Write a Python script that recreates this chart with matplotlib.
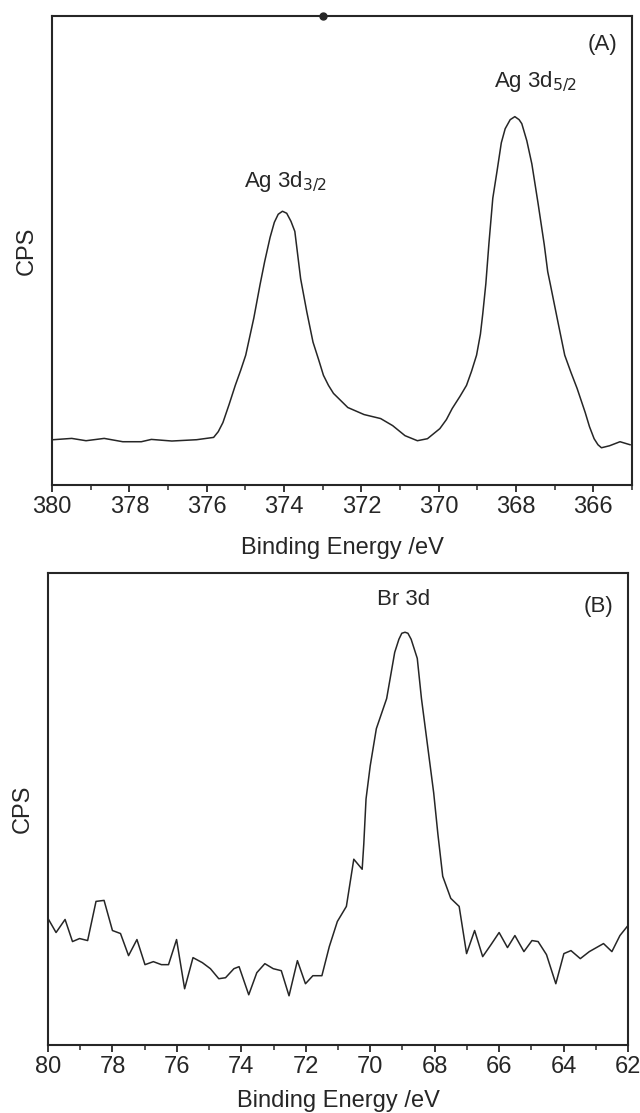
import matplotlib
matplotlib.use("Agg")
import matplotlib.pyplot as plt
from matplotlib.ticker import MultipleLocator

plt.rcParams['font.family'] = ['Liberation Sans', 'DejaVu Sans']

# Ag 3d region: binding energy (eV) and counts (arbitrary units)
ag_energy = [379.97, 379.49, 379.12, 378.65, 378.17, 377.69, 377.43, 376.90,
             376.26, 375.82, 375.70, 375.58, 375.42, 375.26, 375.12, 374.99,
             374.78, 374.62, 374.50, 374.36, 374.25, 374.15, 374.04, 373.93,
             373.82, 373.72, 373.57, 373.41, 373.25, 373.10, 372.98, 372.85,
             372.72, 372.35, 371.93, 371.50, 371.19, 370.87, 370.55, 370.29,
             369.97, 369.80, 369.65, 369.45, 369.28, 369.15, 369.02, 368.92,
             368.86, 368.78, 368.70, 368.60, 368.49, 368.38, 368.28, 368.15,
             368.03, 367.92, 367.85, 367.72, 367.59, 367.43, 367.27, 367.18,
             367.11, 367.00, 366.90, 366.74, 366.58, 366.42, 366.21, 366.10,
             365.98, 365.88, 365.79, 365.58, 365.31, 365.05]
ag_counts = [45, 46.3, 44, 46.3, 43, 43, 45.3, 43.7,
             45, 47.3, 53, 62, 80, 99, 114, 129,
             166, 199, 222, 246, 261, 269, 272, 270,
             262, 252, 205, 172, 142, 124, 109, 99,
             91, 77, 70, 66, 59, 49, 44, 46,
             56, 65, 76, 88, 99, 113, 129, 150,
             170, 200, 240, 285, 312, 340, 354, 363,
             366, 363, 359, 342, 319, 280, 239, 212,
             199, 178, 159, 129, 112, 96, 72, 58,
             46, 40, 37, 39, 43, 40]

# Br 3d region
br_energy = [80.00, 79.75, 79.47, 79.24, 79.02, 78.77, 78.51, 78.26, 78.00,
             77.75, 77.50, 77.24, 76.99, 76.73, 76.48, 76.26, 76.01, 75.76,
             75.50, 75.21, 74.96, 74.70, 74.49, 74.23, 74.07, 73.77, 73.52,
             73.27, 73.01, 72.76, 72.52, 72.26, 72.01, 71.78, 71.50, 71.27,
             71.02, 70.74, 70.51, 70.25, 70.20, 70.13, 70.00, 69.81, 69.49,
             69.24, 69.11, 69.02, 68.92, 68.83, 68.73, 68.54, 68.41, 68.22,
             68.03, 67.90, 67.75, 67.50, 67.24, 67.01, 66.76, 66.51, 66.25,
             66.00, 65.74, 65.51, 65.23, 64.98, 64.79, 64.53, 64.24, 63.99,
             63.77, 63.48, 63.20, 62.76, 62.50, 62.25, 62.00]
br_counts = [126, 112, 125, 103, 106, 104, 143, 144, 114,
             111, 89, 105, 80, 83, 80, 80, 105, 56,
             87, 82, 76, 66, 67, 76, 78, 50, 72,
             81, 76, 74, 49, 84, 61, 69, 69, 98,
             123, 138, 185, 175, 200, 245, 278, 315, 345,
             391, 404, 410, 411, 410, 404, 385, 345, 298,
             251, 210, 168, 146, 138, 91, 114, 88, 100,
             112, 97, 109, 93, 104, 103, 90, 61, 91,
             94, 86, 93, 101, 93, 109, 119]

ag_xlim = (380, 365)
br_xlim = (80, 62)
ag_ylim = (0, 466)
br_ylim = (0, 470)

ag_peaks = [(373.95, 302, 'Ag 3d$_{3/2}$'), (367.50, 401, 'Ag 3d$_{5/2}$')]
br_peaks = [(68.95, 444, 'Br 3d')]

INK = '#262626'
W, H = 640, 1113
fig = plt.figure(figsize=(W / 100, H / 100), dpi=100)


def px_axes(left, top, right, bottom):
    return fig.add_axes([left / W, 1 - bottom / H, (right - left) / W, (bottom - top) / H])


def style(ax, xlim, ylim, xlabel_y_px, top_px, bottom_px):
    ax.set_xlim(*xlim)
    ax.set_ylim(*ylim)
    ax.xaxis.set_major_locator(MultipleLocator(2))
    ax.xaxis.set_minor_locator(MultipleLocator(1))
    ax.tick_params(axis='x', which='major', direction='out', length=5, width=1.3,
                   color=INK, labelsize=17, labelcolor=INK, pad=3)
    ax.tick_params(axis='x', which='minor', direction='out', length=3.5, width=1.1, color=INK)
    ax.set_yticks([])
    for s in ax.spines.values():
        s.set_linewidth(1.5)
        s.set_color(INK)
    ax.set_xlabel('Binding Energy /eV', fontsize=17, color=INK)
    ax.xaxis.label.set_va('center')
    ax.xaxis.set_label_coords(0.5, -(xlabel_y_px - bottom_px) / (bottom_px - top_px))
    ax.set_ylabel('CPS', fontsize=17, color=INK)
    ax.yaxis.set_label_coords(-0.025, 0.5)


# (A) Ag 3d
axA = px_axes(52, 16, 632, 485)
axA.plot(ag_energy, ag_counts, color=INK, lw=1.1, solid_joinstyle='round')
style(axA, ag_xlim, ag_ylim, 548, 16, 485)
for e, c, t in ag_peaks:
    axA.text(e, c, t, ha='center', va='center', fontsize=16, color=INK)
axA.text(0.975, 0.94, '(A)', transform=axA.transAxes, ha='right', va='center',
         fontsize=16, color=INK)
axA.plot([373], [ag_ylim[1]], 'o', color=INK, ms=5, clip_on=False)

# (B) Br 3d
axB = px_axes(48, 573, 628, 1045)
axB.plot(br_energy, br_counts, color=INK, lw=1.1, solid_joinstyle='round')
style(axB, br_xlim, br_ylim, 1101, 573, 1045)
for e, c, t in br_peaks:
    axB.text(e, c, t, ha='center', va='center', fontsize=16, color=INK)
axB.text(0.975, 0.93, '(B)', transform=axB.transAxes, ha='right', va='center',
         fontsize=16, color=INK)

fig.savefig('out.png', dpi=100)
